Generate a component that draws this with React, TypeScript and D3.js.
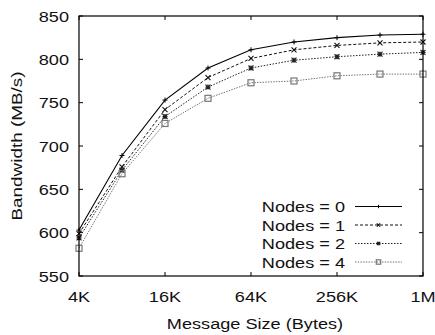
import React from "react";
import * as d3 from "d3";

const sizes = [4096, 8192, 16384, 32768, 65536, 131072, 262144, 524288, 1048576];
const nodes0 = [603, 689, 753, 790, 811, 820, 825, 828, 829];
const nodes1 = [599, 676, 742, 779, 801, 811, 816, 819, 820];
const nodes2 = [594, 672, 734, 768, 790, 799, 803, 806, 808];
const nodes4 = [582, 668, 726, 755, 773, 775, 781, 783, 783];
const seriesNames = ["Nodes = 0", "Nodes = 1", "Nodes = 2", "Nodes = 4"];
const xTicks = [4096, 16384, 65536, 262144, 1048576];
const xTickLabels = ["4K", "16K", "64K", "256K", "1M"];
const yTicks = [550, 600, 650, 700, 750, 800, 850];

const W = 435, H = 335;
const L = 79, R = 423, T = 16, B = 276;
const FONT = "'Liberation Sans', Arial, Helvetica, sans-serif";
const SX = 1.17;

const styles = [
  { color: "#000", dash: "", width: 1.1, marker: "plus" },
  { color: "#111", dash: "3,2", width: 1, marker: "cross" },
  { color: "#222", dash: "1.5,1.5", width: 1, marker: "star" },
  { color: "#777", dash: "1.5,1.2", width: 1, marker: "square" },
];

function Marker({ x, y, kind, color, s = 2.5 }: { x: number; y: number; kind: string; color: string; s?: number }) {
  if (kind === "plus")
    return <path d={`M${x - s},${y}H${x + s}M${x},${y - s}V${y + s}`} stroke={color} strokeWidth={1} fill="none" />;
  if (kind === "cross")
    return <path d={`M${x - s},${y - s}L${x + s},${y + s}M${x - s},${y + s}L${x + s},${y - s}`} stroke={color} strokeWidth={1.1} fill="none" />;
  if (kind === "star")
    return (
      <path
        d={`M${x - s},${y}H${x + s}M${x},${y - s}V${y + s}M${x - s},${y - s}L${x + s},${y + s}M${x - s},${y + s}L${x + s},${y - s}`}
        stroke={color}
        strokeWidth={1.2}
        fill="none"
      />
    );
  return <rect x={x - s - 0.5} y={y - s - 0.5} width={2 * s + 1} height={2 * s + 1} stroke={color} strokeWidth={1.2} fill="none" />;
}

function T2({ x, y, anchor, children, size = 15.5 }: any) {
  return (
    <text
      transform={`translate(${x},${y}) scale(${SX},1)`}
      textAnchor={anchor}
      fontFamily={FONT}
      fontSize={size}
      fill="#111"
    >
      {children}
    </text>
  );
}

export default function App() {
  const x = d3.scaleLog().base(2).domain([4096, 1048576]).range([L, R]);
  const y = d3.scaleLinear().domain([550, 850]).range([B, T]);
  const all = [nodes0, nodes1, nodes2, nodes4];
  const line = d3
    .line<number>()
    .x((_, i) => x(sizes[i]))
    .y((d) => y(d));

  const legendY = [206.5, 225, 243.5, 262];
  return (
    <svg width={W} height={H} style={{ position: "absolute", left: 0, top: 0, background: "#fff" }}>
      {yTicks.map((t) => (
        <g key={"y" + t}>
          <line x1={L} x2={L + 4} y1={y(t)} y2={y(t)} stroke="#000" />
          <line x1={R} x2={R - 4} y1={y(t)} y2={y(t)} stroke="#000" />
          <T2 x={69} y={y(t) + 5.5} anchor="end">{t}</T2>
        </g>
      ))}
      {xTicks.map((t, i) => (
        <g key={"x" + t}>
          <line x1={x(t)} x2={x(t)} y1={B} y2={B - 4} stroke="#000" />
          <line x1={x(t)} x2={x(t)} y1={T} y2={T + 4} stroke="#000" />
          <T2 x={x(t)} y={301.5} anchor="middle">{xTickLabels[i]}</T2>
        </g>
      ))}
      {all.map((vals, si) => (
        <g key={si}>
          <path d={line(vals) || ""} fill="none" stroke={styles[si].color} strokeWidth={styles[si].width} strokeDasharray={styles[si].dash} />
          {vals.map((v, i) => (
            <Marker key={i} x={x(sizes[i])} y={y(v)} kind={styles[si].marker} color={styles[si].color} />
          ))}
        </g>
      ))}
      <rect x={L} y={T} width={R - L} height={B - T} fill="none" stroke="#000" strokeWidth={1.2} />
      {seriesNames.map((n, si) => (
        <g key={n}>
          <T2 x={345} y={legendY[si] + 5.6} anchor="end">{n}</T2>
          <line x1={355} x2={402} y1={legendY[si]} y2={legendY[si]} stroke={styles[si].color} strokeWidth={styles[si].width} strokeDasharray={styles[si].dash} />
          <Marker x={378.5} y={legendY[si]} kind={styles[si].marker} color={styles[si].color} s={1.7} />
        </g>
      ))}
      <T2 x={(L + R) / 2 + 4} y={329} anchor="middle">Message Size (Bytes)</T2>
      <text
        transform={`translate(22,${(T + B) / 2}) rotate(-90) scale(1.22,1)`}
        textAnchor="middle"
        fontFamily={FONT}
        fontSize={15.5}
        fill="#111"
      >
        Bandwidth (MB/s)
      </text>
    </svg>
  );
}
